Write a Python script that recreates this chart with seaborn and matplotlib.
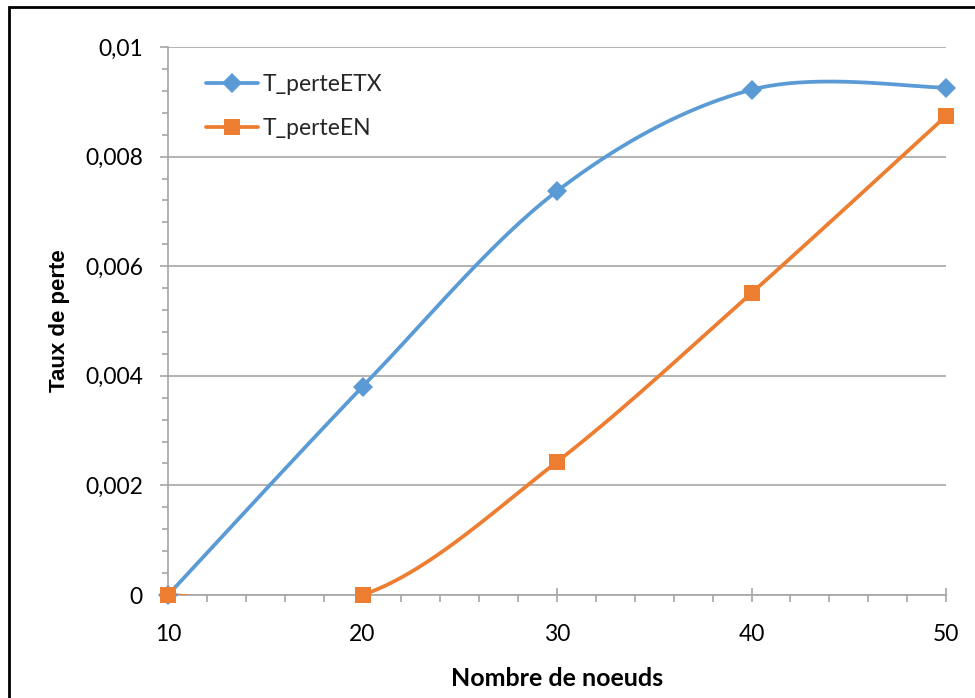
import numpy as np
import pandas as pd
import matplotlib
matplotlib.use("Agg")
import matplotlib.pyplot as plt
import seaborn as sns
from matplotlib.patches import Rectangle
from matplotlib.ticker import MultipleLocator, FuncFormatter

# ---- data ----
nodes = [10, 20, 30, 40, 50]
t_perte_etx = [0.0, 0.0038, 0.00737, 0.00922, 0.00926]
t_perte_en = [0.0, 0.0, 0.00243, 0.00551, 0.00874]
series_names = ["T_perteETX", "T_perteEN"]
x_label = "Nombre de noeuds"
y_label = "Taux de perte"

colors = ["#5B9BD5", "#ED7D31"]
markers = ["D", "s"]
msizes = [10, 11]


def excel_smooth(xs, ys, n=60):
    """Excel-style smoothing (Catmull-Rom Bezier) of a polyline for drawing."""
    P = np.column_stack([xs, ys]).astype(float)
    P = np.vstack([P[0], P, P[-1]])
    out = []
    for i in range(1, len(P) - 2):
        p0, p1, p2, p3 = P[i - 1], P[i], P[i + 1], P[i + 2]
        c1 = p1 + (p2 - p0) / 6.0
        c2 = p2 - (p3 - p1) / 6.0
        t = np.linspace(0, 1, n)[:, None]
        seg = ((1 - t) ** 3) * p1 + 3 * ((1 - t) ** 2) * t * c1 + 3 * (1 - t) * t ** 2 * c2 + t ** 3 * p2
        out.append(seg if i == 1 else seg[1:])
    out = np.vstack(out)
    return out[:, 0], out[:, 1]


sns.set_theme(style="white")
plt.rcParams["font.family"] = ["Lato", "DejaVu Sans"]

fig = plt.figure(figsize=(9.75, 6.98), dpi=100)
ax = fig.add_axes([168 / 975, 1 - 595 / 698, (946 - 168) / 975, (595 - 47) / 698])

grid_c = "#A6A6A6"
lw = 2.7
for vals, name, c, m, ms in zip([t_perte_etx, t_perte_en], series_names, colors, markers, msizes):
    sx, sy = excel_smooth(nodes, vals)
    ax.plot(sx, sy, color=c, lw=lw, solid_capstyle="round", zorder=3)
    df = pd.DataFrame({"x": nodes, "y": vals})
    sns.lineplot(data=df, x="x", y="y", ax=ax, color=c, marker=m, markersize=ms,
                 markeredgewidth=0, linestyle="none", zorder=4, clip_on=False)
    ax.plot([], [], color=c, lw=lw, marker=m, markersize=ms, markeredgewidth=0, label=name)

ax.set_xlim(10, 50)
ax.set_ylim(0, 0.01)
ax.yaxis.set_major_locator(MultipleLocator(0.002))
ax.yaxis.set_minor_locator(MultipleLocator(0.0004))
ax.xaxis.set_major_locator(MultipleLocator(10))
ax.xaxis.set_minor_locator(MultipleLocator(2))


def fmt(v, pos):
    if abs(v) < 1e-12:
        return "0"
    s = ("%.3f" % v).rstrip("0")
    return s.replace(".", ",")


ax.yaxis.set_major_formatter(FuncFormatter(fmt))
ax.grid(axis="y", which="major", color=grid_c, lw=1.2)
ax.set_axisbelow(True)
for s in ["top", "right"]:
    ax.spines[s].set_visible(False)
for s in ["left", "bottom"]:
    ax.spines[s].set_color(grid_c)
    ax.spines[s].set_linewidth(1.2)

fs = 16.5
ax.tick_params(axis="y", which="major", direction="out", length=6, width=1.2, color=grid_c,
               labelsize=fs, labelcolor="black", pad=12, left=True)
ax.tick_params(axis="y", which="minor", direction="out", length=4, width=1.2, color=grid_c, left=True)
ax.tick_params(axis="x", which="major", direction="inout", length=10, width=1.2, color=grid_c,
               labelsize=fs, labelcolor="black", pad=16, bottom=True)
ax.tick_params(axis="x", which="minor", direction="out", length=5, width=1.2, color=grid_c, bottom=True)

ax.set_xlabel(x_label, fontsize=18, fontweight="bold", labelpad=16, color="black")
ax.set_ylabel(y_label, fontsize=16, fontweight="bold", labelpad=11, color="black",
              family=["Liberation Sans", "DejaVu Sans"])

leg = ax.legend(loc="upper left", bbox_to_anchor=(0.022, 0.988), frameon=False,
                fontsize=fs, handlelength=2.3, labelspacing=1.0, handletextpad=0.2)

fig.patches.append(Rectangle((9 / 975, -0.05), 1.2, 1 - 7 / 698 + 0.05,
                             transform=fig.transFigure, fill=False, edgecolor="black", lw=2))

fig.savefig("out.png", dpi=100, facecolor="white")
